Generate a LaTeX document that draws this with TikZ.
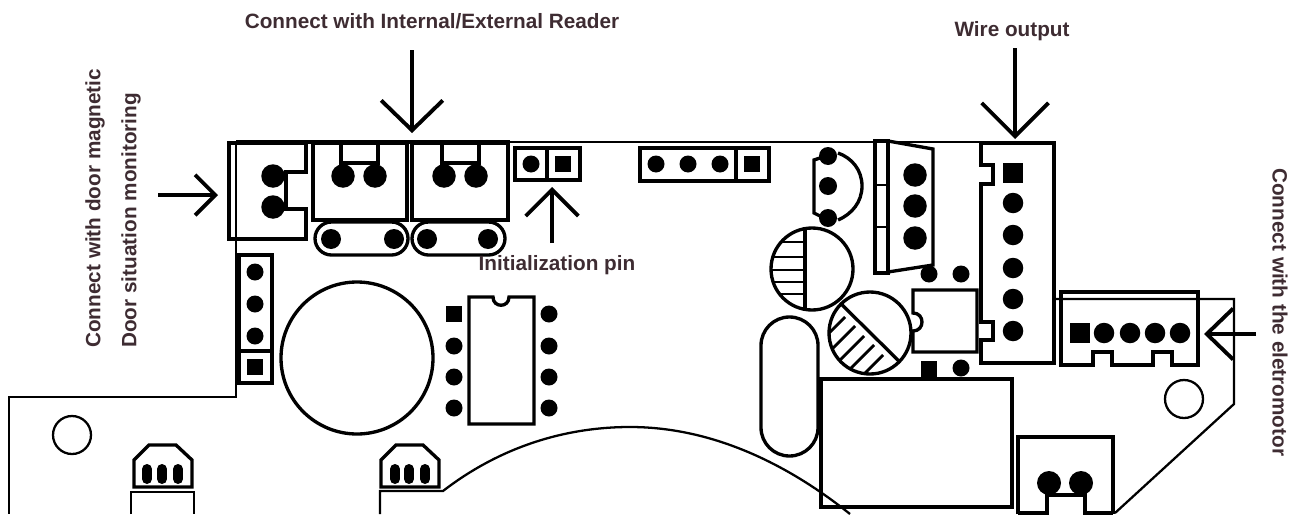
\documentclass[tikz,border=0pt]{standalone}
\usepackage{fontspec}
\setmainfont{Liberation Sans}
\usetikzlibrary{arrows.meta}
\definecolor{labelbrown}{RGB}{62,44,50}
\tikzstyle{outline} = [draw=black, line width=1.3pt]
\tikzstyle{part} = [draw=black, line width=1.9pt]
\tikzstyle{hatch} = [draw=black, line width=1.6pt]
\tikzstyle{pin} = [circle, fill=black, inner sep=0pt, minimum size=0.34cm]
\tikzstyle{pinsq} = [rectangle, fill=black, inner sep=0pt, minimum size=0.33cm]
\tikzstyle{pinmid} = [circle, fill=black, inner sep=0pt, minimum size=0.4cm]
\tikzstyle{pinbig} = [circle, fill=black, inner sep=0pt, minimum size=0.47cm]
\tikzstyle{caption} = [font=\fontsize{11.8}{14}\selectfont\bfseries, text=labelbrown, inner sep=0pt]
\tikzstyle{arrow} = [line width=2.2pt]
\begin{document}
\begin{tikzpicture}[x=0.02cm, y=-0.02cm]
\useasboundingbox (0,0) rectangle (1291,514);

% Board edge
\draw[outline] (983,142) -- (236,142) -- (236,397) -- (9,397) -- (9,514);
\draw[part] (236,142) -- (510,142);
\draw[outline] (380,514) -- (380,491) -- (443,491) .. controls (500,447) and (565,427) .. (630,427) .. controls (710,427) and (785,462) .. (850,514);
\draw[outline] (1054,299) -- (1234,299) -- (1234,404) -- (1115,513);
\draw[outline] (72,435) circle [radius=19];
\draw[outline] (1184,399) circle [radius=19];

% Left connector
\draw[part] (229,143) -- (306,143) -- (306,172) -- (286,172) -- (286,209) -- (306,209) -- (306,239) -- (229,239) -- cycle;
\node[pinbig] (dm1) at (273,176) {};
\node[pinbig] (dm2) at (273,207) {};

% Reader connectors
\draw[part] (313,143) rectangle (407,220);
\draw[part] (341,143) -- (341,163) -- (378,163) -- (378,143);
\node[pinbig] (ra1) at (343,176) {};
\node[pinbig] (ra2) at (375,176) {};
\draw[part] (412,143) rectangle (508,220);
\draw[part] (442,143) -- (442,163) -- (479,163) -- (479,143);
\node[pinbig] (rb1) at (444,176) {};
\node[pinbig] (rb2) at (476,176) {};

% Ovals below the readers
\draw[part, rounded corners=0.33cm] (315,222) rectangle (408,255);
\node[pinmid] (oa1) at (331,239) {};
\node[pinmid] (oa2) at (394,239) {};
\draw[part, rounded corners=0.33cm] (412,222) rectangle (505,255);
\node[pinmid] (ob1) at (427,239) {};
\node[pinmid] (ob2) at (488,239) {};

% Headers
\draw[part] (515,148) rectangle (580,180);
\draw[part] (547,148) -- (547,180);
\node[pin] (ip1) at (531,164) {};
\node[pinsq] (ip2) at (563,164) {};
\draw[part] (640,148) rectangle (769,181);
\draw[part] (736,148) -- (736,181);
\node[pin] (ha1) at (656,164) {};
\node[pin] (ha2) at (688,164) {};
\node[pin] (ha3) at (720,164) {};
\node[pinsq] (ha4) at (752,164) {};
\draw[part] (239,255) rectangle (272,383);
\draw[part] (239,351) -- (272,351);
\node[pin] (hb1) at (255,272) {};
\node[pin] (hb2) at (255,304) {};
\node[pin] (hb3) at (255,336) {};
\node[pinsq] (hb4) at (255,367) {};

% Big round part and IC
\draw[part] (357,358) circle [radius=76];
\draw[part] (469,297) -- (493,297) .. controls (493,308) and (509,308) .. (509,297) -- (534,297) -- (534,424) -- (469,424) -- cycle;
\node[pinsq] (ic1) at (454,314) {};
\node[pin] (ic2) at (454,346) {};
\node[pin] (ic3) at (454,377) {};
\node[pin] (ic4) at (454,408) {};
\node[pin] (ic5) at (549,314) {};
\node[pin] (ic6) at (549,346) {};
\node[pin] (ic7) at (549,377) {};
\node[pin] (ic8) at (549,408) {};

% Bottom sockets
\draw[part] (134,487) -- (134,460) -- (149,445) -- (176,445) -- (192,460) -- (192,487) -- cycle;
\draw[outline] (131,514) -- (131,492) -- (194,492) -- (194,514);
\draw[line width=0.2cm, line cap=round, black] (147,469) -- (147,479) (162,469) -- (162,479) (178,469) -- (178,479);
\draw[part] (381,487) -- (381,460) -- (396,445) -- (423,445) -- (439,460) -- (439,487) -- cycle;
\draw[line width=0.2cm, line cap=round, black] (395,469) -- (395,479) (409,469) -- (409,479) (425,469) -- (425,479);

% Three pin part
\draw[part] (820,158) -- (814,160) -- (814,213) -- (820,216);
\draw[part] (838,153) .. controls (852,158) and (862,170) .. (862,186) .. controls (862,202) and (852,214) .. (838,220);
\node[pin, minimum size=0.36cm] (tp1) at (828,156) {};
\node[pin, minimum size=0.36cm] (tp2) at (828,186) {};
\node[pin, minimum size=0.36cm] (tp3) at (828,218) {};

% Regulator
\draw[part] (875,141) rectangle (888,273);
\draw[outline] (875,185) -- (888,185);
\draw[outline] (875,227) -- (888,227);
\draw[part] (888,141) -- (933,149) -- (933,265) -- (888,272);
\node[pinbig] (rg1) at (915,175) {};
\node[pinbig] (rg2) at (915,206) {};
\node[pinbig] (rg3) at (915,238) {};
\node[pin] (rg4) at (929,274) {};
\node[pin] (rg5) at (961,274) {};

% Capacitors
\begin{scope}
\clip (812,269) circle [radius=41];
\draw[hatch] (771,242) -- (805,242);
\draw[hatch] (771,257) -- (805,257);
\draw[hatch] (771,270) -- (805,270);
\draw[hatch] (771,282) -- (805,282);
\draw[hatch] (771,294) -- (805,294);
\draw[part] (805,220) -- (805,320);
\end{scope}
\draw[part] (812,269) circle [radius=41];
\begin{scope}
\clip (870,333) circle [radius=41];
\draw[hatch] (845,317) -- (815,347);
\draw[hatch] (855,326) -- (825,356);
\draw[hatch] (864,336) -- (834,366);
\draw[hatch] (874,345) -- (844,375);
\draw[hatch] (883,355) -- (853,385);
\draw[part] (829,292) -- (910,372);
\end{scope}
\draw[part] (870,333) circle [radius=41];

% Square module
\draw[part] (913,352) -- (913,331) .. controls (925,331) and (925,313) .. (913,313) -- (913,290) -- (977,290) -- (977,352) -- cycle;
\node[pinsq] (ms1) at (929,369) {};
\node[pin] (ms2) at (961,368) {};

% Oval and big box
\draw[part, rounded corners=0.57cm] (761,317) rectangle (818,456);
\draw[part] (821,379) rectangle (1012,507);

% Wire connector
\draw[part] (981,143) -- (1054,143) -- (1054,363) -- (981,363) -- (981,340) -- (993,340) -- (993,322) -- (981,322) -- (981,184) -- (993,184) -- (993,165) -- (981,165) -- cycle;
\node[pinsq, minimum size=0.4cm] (wo1) at (1013,173) {};
\node[pin, minimum size=0.41cm] (wo2) at (1013,203) {};
\node[pin, minimum size=0.41cm] (wo3) at (1013,235) {};
\node[pin, minimum size=0.41cm] (wo4) at (1013,268) {};
\node[pin, minimum size=0.41cm] (wo5) at (1013,299) {};
\node[pin, minimum size=0.41cm] (wo6) at (1013,331) {};

% Motor connector
\draw[part] (1061,292) -- (1198,292) -- (1198,365) -- (1172,365) -- (1172,352) -- (1153,352) -- (1153,365) -- (1112,365) -- (1112,352) -- (1093,352) -- (1093,365) -- (1061,365) -- cycle;
\node[pinsq, minimum size=0.4cm] (mo1) at (1080,333) {};
\node[pin, minimum size=0.41cm] (mo2) at (1104,333) {};
\node[pin, minimum size=0.41cm] (mo3) at (1130,333) {};
\node[pin, minimum size=0.41cm] (mo4) at (1155,333) {};
\node[pin, minimum size=0.41cm] (mo5) at (1180,333) {};

% Bottom right connector
\draw[part] (1018,514) -- (1018,437) -- (1113,437) -- (1113,514);
\draw[part] (1018,513) -- (1047,513) -- (1047,495) -- (1085,495) -- (1085,513) -- (1113,513);
\node[pinbig, minimum size=0.48cm] (br1) at (1049,483) {};
\node[pinbig, minimum size=0.48cm] (br2) at (1081,483) {};

% Labels
\node[caption] (reader) at (432,21) {Connect with Internal/External Reader};
\node[caption] (wire) at (1012,31) {Wire output};
\node[caption] (init) at (557,265) {Initialization pin};
\node[caption, rotate=90, anchor=west] (door) at (95,348) {Connect with door magnetic};
\node[caption, rotate=90, anchor=west] (situ) at (131,348) {Door situation monitoring};
\node[caption, rotate=-90, anchor=west] (motor) at (1280,168) {Connect with the eletromotor};

% Arrows
\coordinate (readerA) at (412,50);
\coordinate (readerB) at (412,133);
\coordinate (wireA) at (1015,48);
\coordinate (wireB) at (1015,139);
\coordinate (doorA) at (158,195);
\coordinate (doorB) at (218,195);
\coordinate (initA) at (552,243);
\coordinate (initB) at (552,187);
\coordinate (motorA) at (1256,334);
\coordinate (motorB) at (1204,334);
\draw[arrow, -{Straight Barb[length=17pt, width=35pt]}] (readerA) -- (readerB);
\draw[arrow, -{Straight Barb[length=19pt, width=38pt]}] (wireA) -- (wireB);
\draw[arrow, -{Straight Barb[length=11.5pt, width=23pt]}] (doorA) -- (doorB);
\draw[arrow, -{Straight Barb[length=15pt, width=30pt]}] (initA) -- (initB);
\draw[arrow, -{Straight Barb[length=15pt, width=29pt]}] (motorA) -- (motorB);
\end{tikzpicture}
\end{document}
